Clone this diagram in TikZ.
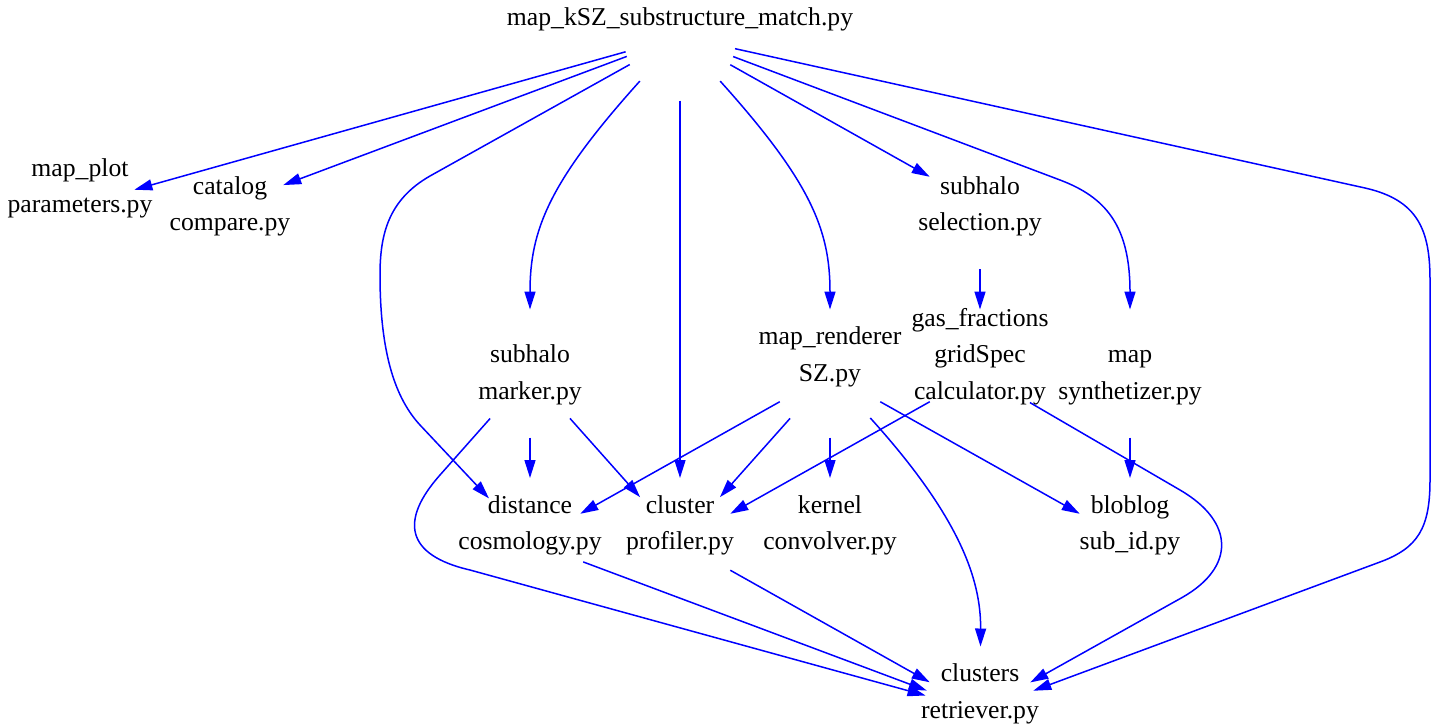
\documentclass[tikz,border=0pt]{standalone}
\usepackage{fontspec}
\setmainfont{Liberation Serif}
\usetikzlibrary{arrows.meta,positioning,shapes.geometric}
\definecolor{depBlue}{HTML}{0000FF}
\newcommand{\pyname}[1]{\makebox[0pt]{\smash{\raisebox{-.25em}{%
  \begin{tabular}{@{}c@{}}#1\end{tabular}}}}}
\tikzset{
  dep arrow/.style={-{Triangle[length=18pt,width=11pt]},draw=depBlue,line width=1.5pt},
  module node/.style={ellipse,draw=none,minimum width=112pt,minimum height=128pt,
    inner sep=0pt,outer sep=0pt,font=\fontsize{25.7}{36.5}\selectfont}
}
\begin{document}
\begin{tikzpicture}[x=1pt,y=-1pt,node distance=40.5pt and 38pt]
    \useasboundingbox (0,0) rectangle (1445,726);
    \node[module node] (main) at (680,36.5)
      {\pyname{map\_kSZ\_substructure\_match.py\\ \mbox{}}};
    \node[module node] (catalog) at (230,205) {\pyname{catalog\\compare.py}};
    \node[module node,left=of catalog] (mapplot)
      {\pyname{map\_plot\\parameters.py\\ \mbox{}}};
    \node[module node] (selection) at (980,205) {\pyname{subhalo\\selection.py}};
    \node[module node,below=of selection] (gridspec)
      {\pyname{gas\_fractions\\gridSpec\\calculator.py\\ \mbox{}}};
    \node[module node,left=of gridspec] (renderer)
      {\pyname{map\_renderer\\SZ.py\\ \mbox{}}};
    \node[module node,right=of gridspec] (synth) {\pyname{map\\synthetizer.py}};
    \node[module node] (marker) at (530,373.5) {\pyname{subhalo\\marker.py}};
    \node[module node,below=of marker] (cosmo)
      {\pyname{distance\\cosmology.py\\ \mbox{}}};
    \node[module node,right=of cosmo] (profiler)
      {\pyname{cluster\\profiler.py\\ \mbox{}}};
    \node[module node,right=of profiler] (kernel)
      {\pyname{kernel\\convolver.py\\ \mbox{}}};
    \node[module node,below=of synth] (bloblog)
      {\pyname{bloblog\\sub\_id.py\\ \mbox{}}};
    \node[module node] (retriever) at (980,710.5)
      {\pyname{clusters\\retriever.py\\ \mbox{}}};
    \draw[dep arrow] (main) -- (mapplot);
    \draw[dep arrow] (main) -- (catalog);
    \draw[dep arrow] (main) -- (selection);
    \draw[dep arrow] (main) -- (profiler);
    \draw[dep arrow] (main) .. controls (549,182) and (530,230) .. (marker);
    \draw[dep arrow] (main) .. controls (811,182) and (830,230) .. (renderer);
    \draw[dep arrow] (main) -- (1060,180) .. controls (1105,197) and (1130,225) .. (synth);
    \draw[dep arrow] (main) -- (1365,188) .. controls (1418,200) and (1430,230) .. (1430,280)
      -- (1430,480) .. controls (1430,528) and (1418,548) .. (1380,562) -- (retriever);
    \draw[dep arrow] (main) -- (430,176) .. controls (388,200) and (380,235) .. (380,275)
      .. controls (380,355) and (396,399) .. (420,425) -- (cosmo);
    \draw[dep arrow] (selection) -- (gridspec);
    \draw[dep arrow] (marker) -- (cosmo);
    \draw[dep arrow] (marker) -- (profiler);
    \draw[dep arrow] (marker) -- (440,475) .. controls (400,520) and (405,555) .. (470,570)
      -- (retriever);
    \draw[dep arrow] (renderer) -- (cosmo);
    \draw[dep arrow] (renderer) -- (profiler);
    \draw[dep arrow] (renderer) -- (kernel);
    \draw[dep arrow] (renderer) -- (bloblog);
    \draw[dep arrow] (renderer) .. controls (960,517) and (981,580) .. (retriever);
    \draw[dep arrow] (gridspec) -- (profiler);
    \draw[dep arrow] (gridspec) -- (1180,490) .. controls (1235,522) and (1235,567) .. (1183,597)
      -- (retriever);
    \draw[dep arrow] (synth) -- (bloblog);
    \draw[dep arrow] (cosmo) -- (retriever);
    \draw[dep arrow] (profiler) -- (retriever);
  \end{tikzpicture}
\end{document}
